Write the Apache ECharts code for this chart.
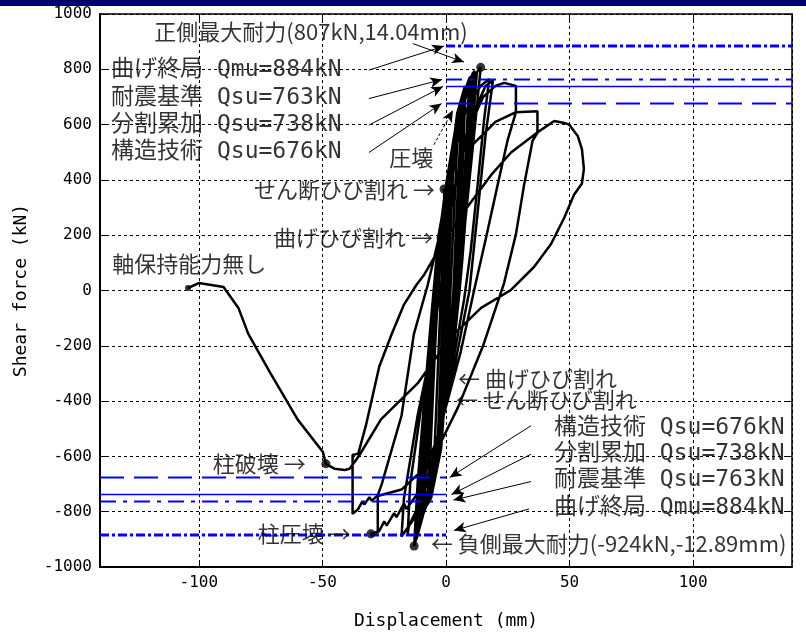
<!DOCTYPE html>
<html>
<head>
<meta charset="utf-8">
<script src="https://cdn.jsdelivr.net/npm/echarts@6/dist/echarts.min.js"></script>
<style>
  html, body { margin: 0; padding: 0; background: #fff; }
  #chart { width: 806px; height: 635px; }
</style>
</head>
<body>
<div id="chart"></div>
<script>
// Axis ranges
const xMin = -140, xMax = 140;
const yMin = -1000, yMax = 1000;

// Load–displacement history, one array per loading cycle: [displacement (mm), shear (kN)]
const cycle01 = [[0,0],[-1,100],[-2,191],[-1.2,80],[-0.5,0],[-0.6,-150],[-0.7,-318],[-0.4,-150],[0,0]];
const cycle02 = [[0,0],[-0.4,190],[-0.8,367],[-0.3,180],[0,0],[-0.3,-200],[-0.7,-396],[-0.3,-200],[-0.5,0]];
const cycle03 = [[-0.5,0],[0.2,200],[1.2,380],[2,470],[1.5,300],[0.8,100],[0.3,0],[-0.3,-200],[-1.2,-400],[-2,-500],[-1.5,-300],[-0.8,-100],[-0.5,0]];
const cycle04 = [[-0.5,0],[0.5,180],[1.8,380],[3.5,560],[2.5,350],[1.5,150],[0.8,0],[0,-200],[-1.6,-420],[-3.5,-580],[-2.6,-380],[-1.8,-180],[-1,0]];
const cycle05 = [[-1,0],[0,190],[2.5,420],[5,640],[4,420],[2.8,200],[1.8,0],[0.6,-217],[-2,-470],[-5,-650],[-4,-440],[-3,-217],[-2,0]];
const cycle06 = [[-2,0],[-0.5,200],[2.8,430],[6.5,700],[5.3,460],[4,220],[3,0],[1.2,-217],[-2.5,-520],[-7,-720],[-5.8,-480],[-4.5,-220],[-3.2,0]];
const cycle06b = [[-3.2,0],[-1,220],[3.5,460],[7,710],[6,480],[4.6,230],[3.4,0],[0.8,-240],[-3.2,-540],[-7.5,-735],[-6.2,-470],[-4.8,-210],[-3.2,0]];
const cycle07 = [[-3.2,0],[-1.5,200],[2,420],[5,651],[8,740],[6.8,480],[5.3,191],[4,0],[1,-217],[-2,-573],[-6,-750],[-9,-790],[-7.5,-540],[-5.4,-217],[-4,0]];
const cycle07b = [[-3.5,0],[-2,200],[1.5,420],[4.5,640],[7.5,735],[6.5,500],[5,200],[3.6,0],[0.6,-217],[-2.5,-580],[-6.5,-760],[-9.5,-800],[-8,-540],[-5.8,-217],[-4.2,0]];
const cycle08 = [[-4,0],[-2.8,191],[0,382],[5,651],[9.5,770],[8,500],[6.5,250],[4.5,27],[2,-200],[-3,-573],[-8,-780],[-10.5,-840],[-9,-600],[-6.5,-300],[-4.5,0]];
const cycle08b = [[-4.2,0],[-3,191],[0.5,382],[5.5,651],[10,775],[8.5,520],[7,260],[5,27],[2.5,-200],[-3.5,-590],[-8.5,-790],[-11,-850],[-9.5,-610],[-7,-300],[-4.8,0]];
const cycle09 = [[-4.5,0],[-2.5,200],[1,400],[6,670],[11,790],[9.5,560],[7.3,382],[5.5,150],[4,0],[1.5,-217],[-4,-600],[-10,-820],[-12,-870],[-10.5,-650],[-8,-400],[-5.5,-100],[-4.6,0]];
const cycle09b = [[-4.8,0],[-3,200],[1.5,420],[6.5,680],[11.5,795],[10,560],[8,382],[6,150],[4.5,0],[1.8,-217],[-4.5,-620],[-10.5,-830],[-12.5,-880],[-11,-650],[-8.5,-400],[-6,-100],[-5,0]];
const cycle10 = [[-4.6,0],[-2,250],[2,450],[7,680],[11,770],[14.04,807],[12,620],[9.5,400],[7,180],[5,0],[2,-250],[-3,-560],[-9,-800],[-12.89,-924],[-11.5,-700],[-9,-420],[-6.5,-150],[-5,0]];
const cycle10b = [[-5,0],[-1.5,260],[3,480],[8,700],[12.5,790],[10.5,560],[8.5,330],[6.5,100],[5.5,0],[2.5,-260],[-4,-600],[-9.5,-820],[-12,-900],[-10.5,-680],[-8.5,-400],[-6,-120],[-5,0]];
const cycle11 = [[-5,0],[-3,200],[2,450],[8,650],[14,740],[17.5,765],[15.4,617],[12.8,382],[10,144],[7.3,-34],[3,-250],[-4,-560],[-11,-800],[-18,-890],[-17,-750],[-11.5,-453],[-6,-217],[-2,20]];
const cycle11b = [[-2,20],[3,350],[10,620],[16,740],[19,760],[16,560],[13,300],[9.5,0],[4,-250],[-4,-560],[-10,-760],[-15,-850],[-15.5,-880],[-14.5,-700],[-10,-420],[-5,-150],[-2,20]];
const cycle12 = [[-2,20],[2,300],[8,560],[15,700],[20,740],[23.6,751],[28.3,740],[28.3,645],[25,546],[20.9,382],[16.2,191],[11.4,2],[6,-220],[-3,-520],[-12,-740],[-16,-790],[-17,-770],[-20,-820],[-21,-805],[-24,-850],[-25,-835],[-27,-870],[-30.4,-880],[-27.6,-875],[-27.6,-740],[-26,-700],[-18,-453],[-13,-158],[-7.4,20]];
const cycle13 = [[-7.4,20],[0,300],[10,520],[20,610],[28.3,645],[37,648],[37,570],[35,541],[31.6,382],[28.3,204],[23.5,27],[15,-200],[5,-420],[-6,-620],[-18,-720],[-28,-744],[-30,-760],[-31,-748],[-33,-773],[-34,-765],[-35.5,-790],[-37.8,-808],[-37.8,-595],[-35.5,-590],[-32.4,-488],[-27,-275],[-22,-158],[-17,-51],[-12,20],[-9,55],[-2,162]];
const cycle14 = [[-2,162],[7.3,286],[18.2,417],[26.3,499],[36.7,570],[43.8,613],[47.9,606],[49.8,600],[53.3,559],[55,511],[55.8,440],[55,387],[51.8,346],[47.8,262],[42.5,168],[35.6,85],[26.3,2],[14.2,-63],[2,-169],[-4.9,-253],[-11.5,-336],[-18.2,-395],[-26.3,-466],[-35,-595],[-36.4,-613],[-39,-645],[-41,-649],[-45,-645],[-48.6,-627],[-49.8,-584],[-60,-467],[-71,-300],[-80,-157],[-84,-63],[-90,13],[-100,27],[-104.4,9]];

// Key events on the curve
const peakPoints = [[14.04, 807], [-12.89, -924]];
const crackPoints = [[-2, 191], [-0.8, 367], [-0.7, -318], [-0.7, -396]];
const failurePoints = [[-30.4, -880], [-48.6, -627]];
const endPoints = [[-104.4, 9]];

// Calculated strengths (kN)
const strengthValues = [884, 763, 738, 676];
const strengthLabels = ['曲げ終局 Qmu=884kN', '耐震基準 Qsu=763kN', '分割累加 Qsu=738kN', '構造技術 Qsu=676kN'];

// Text annotations: [text, anchor displacement, anchor shear]
const noteTexts = [
  ['正側最大耐力(807kN,14.04mm)', -118, 936],
  ['圧壊', -23, 481],
  ['せん断ひび割れ →', -77.7, 364],
  ['曲げひび割れ →', -69.6, 191],
  ['軸保持能力無し', -135, 98],
  ['← 曲げひび割れ', 4.9, -318],
  ['← せん断ひび割れ', 4, -393],
  ['← 負側最大耐力(-924kN,-12.89mm)', -6.1, -916],
  ['柱破壊 →', -94.4, -626],
  ['柱圧壊 →', -76.2, -880]
];
const strengthNoteX = [-135.5, 43.7];
const strengthNoteYPos = [797, 696, 598, 502];
const strengthNoteYNeg = [-786, -684, -590, -496];

// Leader arrows: [from, to]
const leaderArrows = [
  [[-13.4, 893], [7.3, 826]],
  [[-31.2, 797], [-0.8, 884]],
  [[-31.2, 694], [-1.6, 763]],
  [[-31.2, 598], [-1.2, 738]],
  [[-31.2, 499], [-1.8, 676]],
  [[34.4, -489], [1.5, -676]],
  [[34.4, -592], [2.2, -738]],
  [[34.4, -691], [3, -758]],
  [[33.6, -790], [3.2, -868]]
];
const crushArrow = [[-4.9, 527], [2.8, 652]];

const cjkFont = "'Noto Sans CJK JP', sans-serif";
const monoFont = "'DejaVu Sans Mono', 'Noto Sans CJK JP', monospace";

const loadPath = [].concat(cycle01, cycle02, cycle03, cycle04, cycle05, cycle06, cycle06b, cycle07, cycle07b,
  cycle08, cycle08b, cycle09, cycle09b, cycle10, cycle10b, cycle11, cycle11b, cycle12, cycle13, cycle14);

// Styles of the strength reference lines
const refStyles = [
  { width: 3, type: [9, 3, 3, 3] },
  { width: 2, type: [16, 7, 4, 7] },
  { width: 1.5, type: 'solid' },
  { width: 2, type: [24, 10] }
];

const refSeries = strengthValues.map((v, i) => ({
  type: 'line',
  silent: true,
  symbol: 'none',
  z: 4,
  lineStyle: { color: '#0000ff', width: refStyles[i].width, type: refStyles[i].type },
  data: [[0, v], [xMax, v], '-', [xMin, -v], [0, -v]]
}));

const noteData = noteTexts.map(n => ({
  value: [n[1], n[2]], text: n[0],
  label: { fontFamily: cjkFont, fontSize: 22 }
}));
strengthLabels.forEach((t, i) => {
  noteData.push({ value: [strengthNoteX[0], strengthNoteYPos[i]], text: t, label: { fontFamily: monoFont, fontSize: 23 } });
  noteData.push({ value: [strengthNoteX[1], strengthNoteYNeg[i]], text: t, label: { fontFamily: monoFont, fontSize: 23 } });
});

const arrowData = leaderArrows.map(a => [{ coord: a[0] }, { coord: a[1] }]);
arrowData.push([
  { coord: crushArrow[0], lineStyle: { type: [3, 2], width: 1 } },
  { coord: crushArrow[1], lineStyle: { type: [3, 2], width: 1 } }
]);

const chart = echarts.init(document.getElementById('chart'), null, { renderer: 'canvas' });

const tickFont = { fontFamily: "'DejaVu Sans Mono', monospace", fontSize: 16, color: '#000' };
const splitStyle = { show: true, lineStyle: { color: '#000', type: [3, 3], width: 1 } };

chart.setOption({
  animation: false,
  backgroundColor: '#fff',
  graphic: [{
    type: 'rect', left: 0, top: 0, z: 100,
    shape: { width: 806, height: 6 },
    style: { fill: '#000070' }
  }],
  grid: { left: 100, right: 14, top: 14, bottom: 58 },
  xAxis: [{
    type: 'value', min: xMin, max: xMax,
    name: 'Displacement (mm)', nameLocation: 'middle', nameGap: 45,
    nameTextStyle: { fontFamily: "'DejaVu Sans Mono', monospace", fontSize: 18, color: '#000' },
    axisLine: { show: true, onZero: false, lineStyle: { color: '#000', width: 2 } },
    axisTick: { show: true, inside: true, length: 6, lineStyle: { color: '#000' } },
    axisLabel: Object.assign({ margin: 8, showMinLabel: false, showMaxLabel: false, formatter: v => String(v) }, tickFont),
    splitLine: splitStyle
  }, {
    type: 'value', min: xMin, max: xMax, position: 'top',
    axisLine: { show: true, onZero: false, lineStyle: { color: '#000', width: 1.5 } },
    axisTick: { show: true, inside: true, length: 6, lineStyle: { color: '#000' } },
    axisLabel: { show: false },
    splitLine: { show: false }
  }],
  yAxis: [{
    type: 'value', min: yMin, max: yMax, interval: 200,
    name: 'Shear force (kN)', nameLocation: 'middle', nameGap: 70, nameRotate: 90,
    nameTextStyle: { fontFamily: "'DejaVu Sans Mono', monospace", fontSize: 18, color: '#000' },
    axisLine: { show: true, onZero: false, lineStyle: { color: '#000', width: 2 } },
    axisTick: { show: true, inside: true, length: 6, lineStyle: { color: '#000' } },
    axisLabel: Object.assign({ margin: 8, formatter: v => String(v) }, tickFont),
    splitLine: splitStyle
  }, {
    type: 'value', min: yMin, max: yMax, interval: 200, position: 'right',
    axisLine: { show: true, onZero: false, lineStyle: { color: '#000', width: 1.5 } },
    axisTick: { show: true, inside: true, length: 6, lineStyle: { color: '#000' } },
    axisLabel: { show: false },
    splitLine: { show: false }
  }],
  series: [
    ...refSeries,
    {
      name: 'hysteresis',
      type: 'line',
      silent: true,
      symbol: 'none',
      z: 3,
      lineStyle: { color: '#000', width: 2.5 },
      data: loadPath
    },
    {
      type: 'scatter',
      silent: true,
      z: 5,
      symbolSize: 9,
      itemStyle: { color: '#000' },
      data: [].concat(peakPoints, crackPoints, failurePoints)
    },
    {
      type: 'scatter',
      silent: true,
      z: 5,
      symbolSize: 6,
      itemStyle: { color: '#000' },
      data: endPoints
    },
    {
      type: 'scatter',
      silent: true,
      z: 6,
      symbolSize: 0,
      data: noteData,
      label: {
        show: true,
        position: 'right',
        distance: 0,
        color: '#000',
        formatter: p => p.data.text
      },
      markLine: {
        silent: true,
        symbol: ['none', 'arrow'],
        symbolSize: [8, 12],
        label: { show: false },
        lineStyle: { color: '#000', width: 1, type: 'solid' },
        data: arrowData
      }
    }
  ]
});
</script>
</body>
</html>
